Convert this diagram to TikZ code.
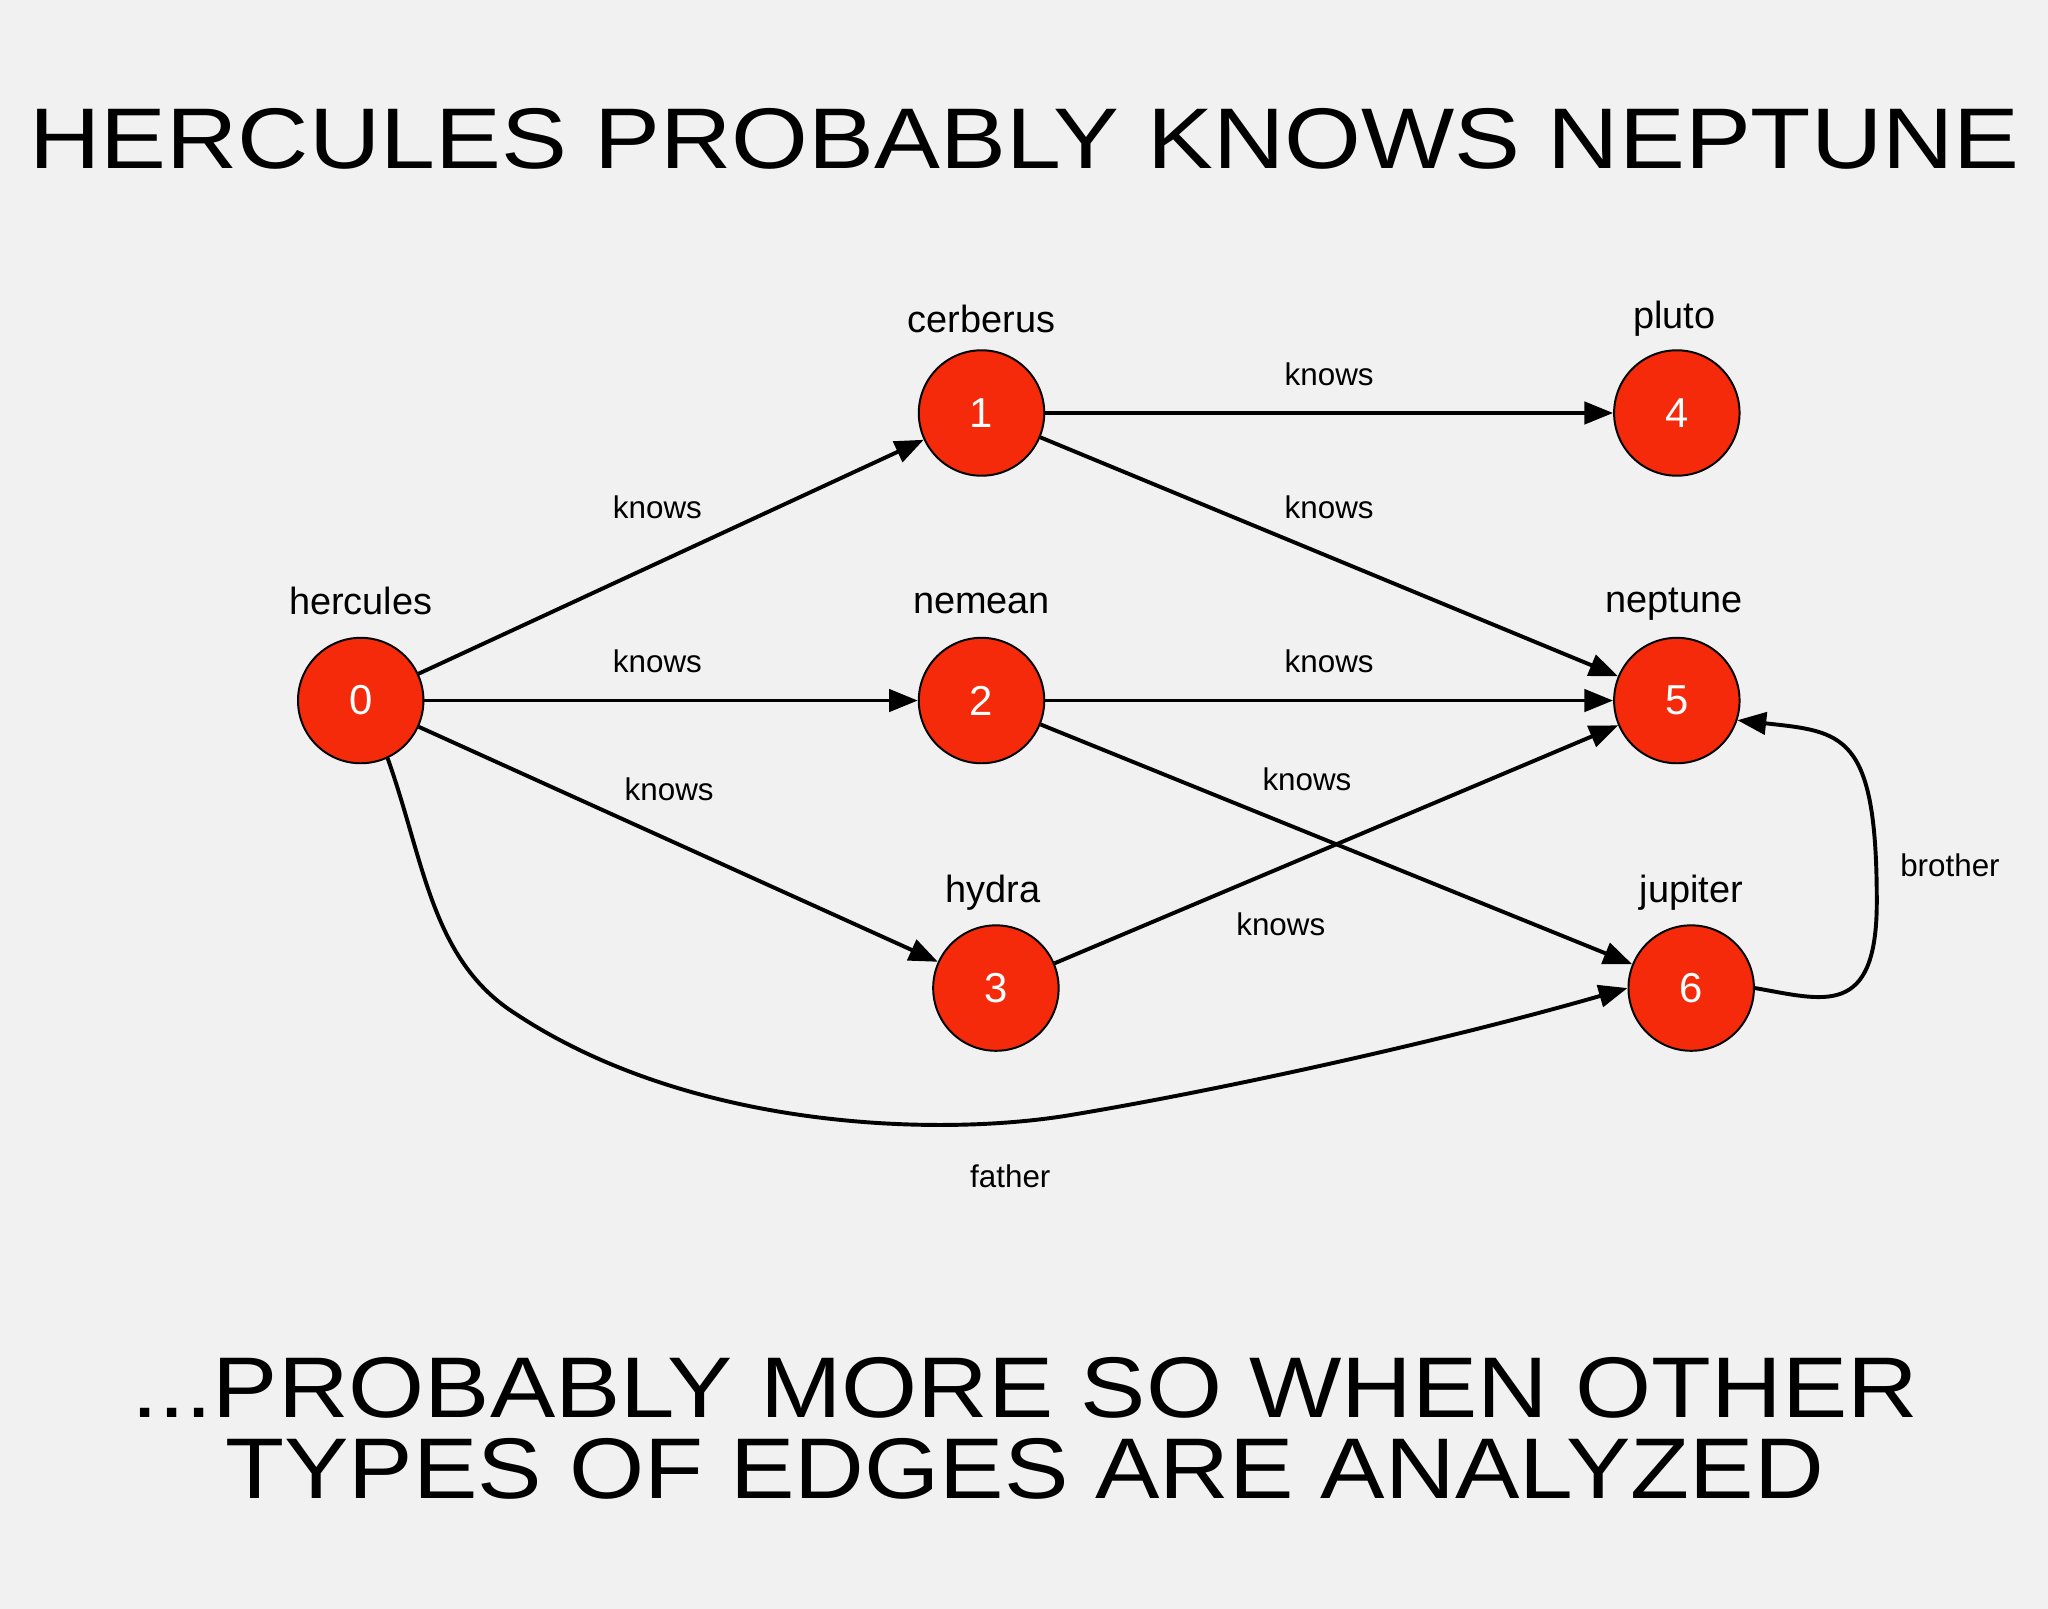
\documentclass[tikz,border=0pt]{standalone}
\usepackage{fontspec}
\setmainfont{Liberation Sans}
\usetikzlibrary{arrows.meta}
\definecolor{bg}{HTML}{F2F1F2}
\definecolor{nred}{HTML}{F52A0A}
\begin{document}
\begin{tikzpicture}[x=1pt,y=-1pt,
  vert/.style={circle,draw=black,line width=1.5pt,fill=nred,minimum size=96pt,inner sep=0pt,text=white,font=\fontsize{32}{32}\selectfont},
  vlab/.style={font=\fontsize{29}{29}\selectfont},
  elab/.style={font=\fontsize{24}{24}\selectfont},
  edge/.style={line width=3pt,-{Triangle[length=22pt,width=17pt]}},
  big/.style={font=\fontsize{60}{60}\selectfont}]
\useasboundingbox[fill=bg] (0,0) rectangle (1567,1231);
\node[big] (t) at (784,106) {\resizebox{1523pt}{46pt}{HERCULES PROBABLY KNOWS NEPTUNE}};
\node[big] (b1) at (784,1062) {\resizebox{1367pt}{46pt}{...PROBABLY MORE SO WHEN OTHER}};
\node[big] (b2) at (784,1124) {\resizebox{1223pt}{46pt}{TYPES OF EDGES ARE ANALYZED}};
\node[vert] (n0) at (276,536) {0};
\node[vert] (n1) at (751,316) {1};
\node[vert] (n2) at (751,536) {2};
\node[vert] (n3) at (762,756) {3};
\node[vert] (n4) at (1283,316) {4};
\node[vert] (n5) at (1283,536) {5};
\node[vert] (n6) at (1294,756) {6};
\node[vlab] (l0) at (276,460) {hercules};
\node[vlab] (l1) at (751,244) {cerberus};
\node[vlab] (l2) at (751,462) {nemean};
\node[vlab] (l3) at (760,683) {hydra};
\node[vlab] (l4) at (1281,244) {pluto};
\node[vlab] (l5) at (1281,462) {neptune};
\node[vlab] (l6) at (1294,683) {jupiter};
\draw[edge] (n0) -- (n1);
\draw[edge] (n0) -- (n2);
\draw[edge] (n0) -- (n3);
\draw[edge] (n1) -- (n4);
\draw[edge] (n1) -- (n5);
\draw[edge] (n2) -- (n5);
\draw[edge] (n2) -- (n6);
\draw[edge] (n3) -- (n5);
\draw[edge] (n0.-65) .. controls (325,660) and (330,735) .. (395,776) .. controls (530,865) and (720,870) .. (820,853) .. controls (940,833) and (1110,795) .. (n6.west);
\draw[edge] (n6.east) .. controls (1395,765) and (1436,780) .. (1436,690) .. controls (1436,560) and (1410,560) .. (n5.-18);
\node[elab] (k1) at (503,388) {knows};
\node[elab] (k2) at (503,506) {knows};
\node[elab] (k3) at (512,604) {knows};
\node[elab] (k4) at (1017,286) {knows};
\node[elab] (k5) at (1017,388) {knows};
\node[elab] (k6) at (1017,506) {knows};
\node[elab] (k7) at (1000,596) {knows};
\node[elab] (k8) at (980,707) {knows};
\node[elab] (f) at (773,900) {father};
\node[elab] (br) at (1492,662) {brother};
\end{tikzpicture}
\end{document}
